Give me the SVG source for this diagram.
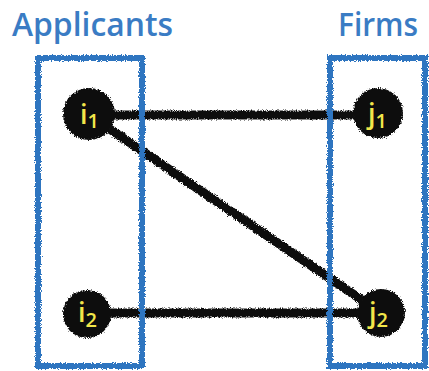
<svg xmlns="http://www.w3.org/2000/svg" width="429" height="371" viewBox="0 0 429 371">
  <defs>
    <!-- crayon-like rough edge -->
    <filter id="crayon" x="-10%" y="-10%" width="120%" height="120%">
      <feTurbulence type="fractalNoise" baseFrequency="1.2" numOctaves="2" seed="3" result="noise"/>
      <feDisplacementMap in="SourceGraphic" in2="noise" scale="4.5" xChannelSelector="R" yChannelSelector="G"/>
    </filter>
  </defs>
  <style>
    .title { font-family: "Open Sans", "Liberation Sans", sans-serif; font-size: 32px; fill: #3a7cc4; font-weight: 600; }
    .group { fill: none; stroke: #2f74c0; stroke-width: 6; }
    .edge { stroke: #111; stroke-width: 9; stroke-linecap: round; }
    .node circle { fill: #111; }
    .label { font-family: "Open Sans", "Liberation Sans", sans-serif; font-size: 27px; fill: #f2e64a; font-weight: 600; }
    .sub { font-size: 20px; }
  </style>
  <rect width="429" height="371" fill="#ffffff"/>

  <text class="title" x="12" y="36" textLength="161" lengthAdjust="spacingAndGlyphs">Applicants</text>
  <text class="title" x="338" y="36" textLength="80" lengthAdjust="spacingAndGlyphs">Firms</text>

  <g id="connectors" filter="url(#crayon)">
    <line class="edge" x1="89" y1="115" x2="378" y2="115"/>
    <line class="edge" x1="89" y1="115" x2="381" y2="313"/>
    <line class="edge" x1="87" y1="313" x2="381" y2="313"/>
  </g>

  <g id="applicants" filter="url(#crayon)">
    <rect class="group" x="38" y="58" width="104" height="308"/>
  </g>
  <g id="firms" filter="url(#crayon)">
    <rect class="group" x="330" y="58" width="95" height="308"/>
  </g>

  <g id="i1" class="node">
    <circle cx="89" cy="114" r="26" filter="url(#crayon)"/>
    <text class="label" x="80" y="124">i<tspan class="sub" dy="4">1</tspan></text>
  </g>
  <g id="j1" class="node">
    <circle cx="378" cy="113" r="25" filter="url(#crayon)"/>
    <text class="label" x="368" y="123">j<tspan class="sub" dy="5">1</tspan></text>
  </g>
  <g id="i2" class="node">
    <circle cx="87" cy="314" r="24" filter="url(#crayon)"/>
    <text class="label" x="78" y="322">i<tspan class="sub" dy="5">2</tspan></text>
  </g>
  <g id="j2" class="node">
    <circle cx="381" cy="313" r="24" filter="url(#crayon)"/>
    <text class="label" x="369" y="322">j<tspan class="sub" dy="5">2</tspan></text>
  </g>
</svg>
